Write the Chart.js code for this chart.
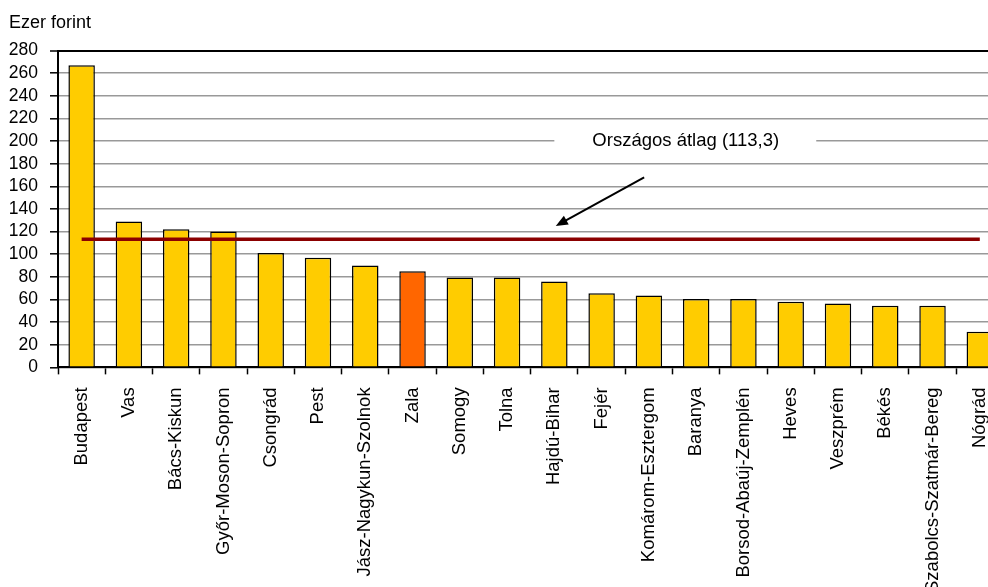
<!DOCTYPE html>
<html>
<head>
<meta charset="utf-8">
<script src="https://cdn.jsdelivr.net/npm/chart.js@4.4.1/dist/chart.umd.min.js"></script>
<style>
    html, body { margin: 0; padding: 0; background: #fff; overflow: hidden; }
    #wrap { position: relative; width: 1015px; height: 606px; }
</style>
</head>
<body>
<div id="wrap"><canvas id="megyeChart"></canvas></div>
<script>
// Megyék, ezer forint
const counties = ['Budapest', 'Vas', 'Bács-Kiskun', 'Győr-Moson-Sopron', 'Csongrád', 'Pest',
    'Jász-Nagykun-Szolnok', 'Zala', 'Somogy', 'Tolna', 'Hajdú-Bihar', 'Fejér',
    'Komárom-Esztergom', 'Baranya', 'Borsod-Abaúj-Zemplén', 'Heves', 'Veszprém',
    'Békés', 'Szabolcs-Szatmár-Bereg', 'Nógrád'];
const values = [267, 129, 122, 120, 101, 97, 90, 85, 79.5, 79.5, 76, 65.5, 63.5,
    60.5, 60.5, 58, 56.5, 54.5, 54.5, 31.5];
const nationalAverage = 113.3;
const averageLabel = 'Országos átlag (113,3)';
const highlighted = 'Zala';

const averageLine = counties.map(() => nationalAverage);
const barColors = counties.map(c => c === highlighted ? '#FF6600' : '#FFCC00');

// Felirat a doboz és a nyíl számára
const annotationPlugin = {
    id: 'atlagFelirat',
    afterDraw(chart) {
        const ctx = chart.ctx;
        const x = chart.scales.x;
        const y = chart.scales.y;
        ctx.save();
        // fehér doboz a rácsvonalak fölött
        const bx0 = x.getPixelForValue(10.0);
        const bx1 = x.getPixelForValue(15.54);
        const by0 = y.getPixelForValue(213);
        const by1 = y.getPixelForValue(181);
        ctx.fillStyle = '#fff';
        ctx.fillRect(bx0, by0, bx1 - bx0, by1 - by0);
        ctx.fillStyle = '#000';
        ctx.font = '18.5px "Liberation Sans", Arial, sans-serif';
        ctx.textAlign = 'center';
        ctx.textBaseline = 'middle';
        ctx.fillText(averageLabel, x.getPixelForValue(12.78), y.getPixelForValue(200.5));

        // nyíl
        const sx = x.getPixelForValue(11.9), sy = y.getPixelForValue(168);
        const tx = x.getPixelForValue(10.03), ty = y.getPixelForValue(125);
        const ang = Math.atan2(ty - sy, tx - sx);
        ctx.strokeStyle = '#000';
        ctx.lineWidth = 2;
        ctx.beginPath();
        ctx.moveTo(sx, sy);
        ctx.lineTo(tx - 8 * Math.cos(ang), ty - 8 * Math.sin(ang));
        ctx.stroke();
        ctx.beginPath();
        ctx.moveTo(tx, ty);
        ctx.lineTo(tx - 12 * Math.cos(ang) + 5 * Math.sin(ang), ty - 12 * Math.sin(ang) - 5 * Math.cos(ang));
        ctx.lineTo(tx - 12 * Math.cos(ang) - 5 * Math.sin(ang), ty - 12 * Math.sin(ang) + 5 * Math.cos(ang));
        ctx.closePath();
        ctx.fill();
        ctx.restore();
    }
};

const ctx = document.getElementById('megyeChart').getContext('2d');
new Chart(ctx, {
    data: {
        labels: counties,
        datasets: [{
            type: 'line',
            data: averageLine,
            borderColor: '#8B0000',
            borderWidth: 3.5,
            pointRadius: 0,
            order: 0
        }, {
            type: 'bar',
            data: values,
            backgroundColor: barColors,
            borderColor: '#000',
            borderWidth: 1.5,
            categoryPercentage: 1,
            barPercentage: 0.56,
            order: 1
        }]
    },
    options: {
        responsive: true,
        maintainAspectRatio: false,
        animation: false,
        layout: {
            padding: { left: 9, right: 0, top: 0, bottom: 0 }
        },
        plugins: {
            legend: { display: false },
            tooltip: { enabled: false },
            title: {
                display: true,
                text: 'Ezer forint',
                align: 'start',
                color: '#000',
                font: { family: '"Liberation Sans", Arial, sans-serif', size: 18, weight: 'normal' },
                padding: { top: 12, bottom: 17 }
            }
        },
        scales: {
            x: {
                grid: {
                    drawOnChartArea: false,
                    drawTicks: true,
                    tickLength: 7,
                    tickColor: '#000',
                    tickWidth: 1.5
                },
                border: { color: '#000', width: 2 },
                ticks: {
                    color: '#000',
                    minRotation: 90,
                    maxRotation: 90,
                    autoSkip: false,
                    padding: 13,
                    font: { family: '"Liberation Sans", Arial, sans-serif', size: 18.5 }
                }
            },
            y: {
                min: 0,
                max: 280,
                afterFit(scale) { scale.width = 49; },
                grid: {
                    color: c => c.tick && c.tick.value === 280 ? '#000' : '#999',
                    lineWidth: c => c.tick && c.tick.value === 280 ? 2 : 1.6,
                    tickColor: '#000',
                    tickWidth: 1.5,
                    tickLength: 8
                },
                border: { color: '#000', width: 2 },
                ticks: {
                    stepSize: 20,
                    autoSkip: false,
                    color: '#000',
                    padding: 12,
                    font: { family: '"Liberation Sans", Arial, sans-serif', size: 17.5 }
                }
            }
        }
    },
    plugins: [annotationPlugin]
});
</script>
</body>
</html>
